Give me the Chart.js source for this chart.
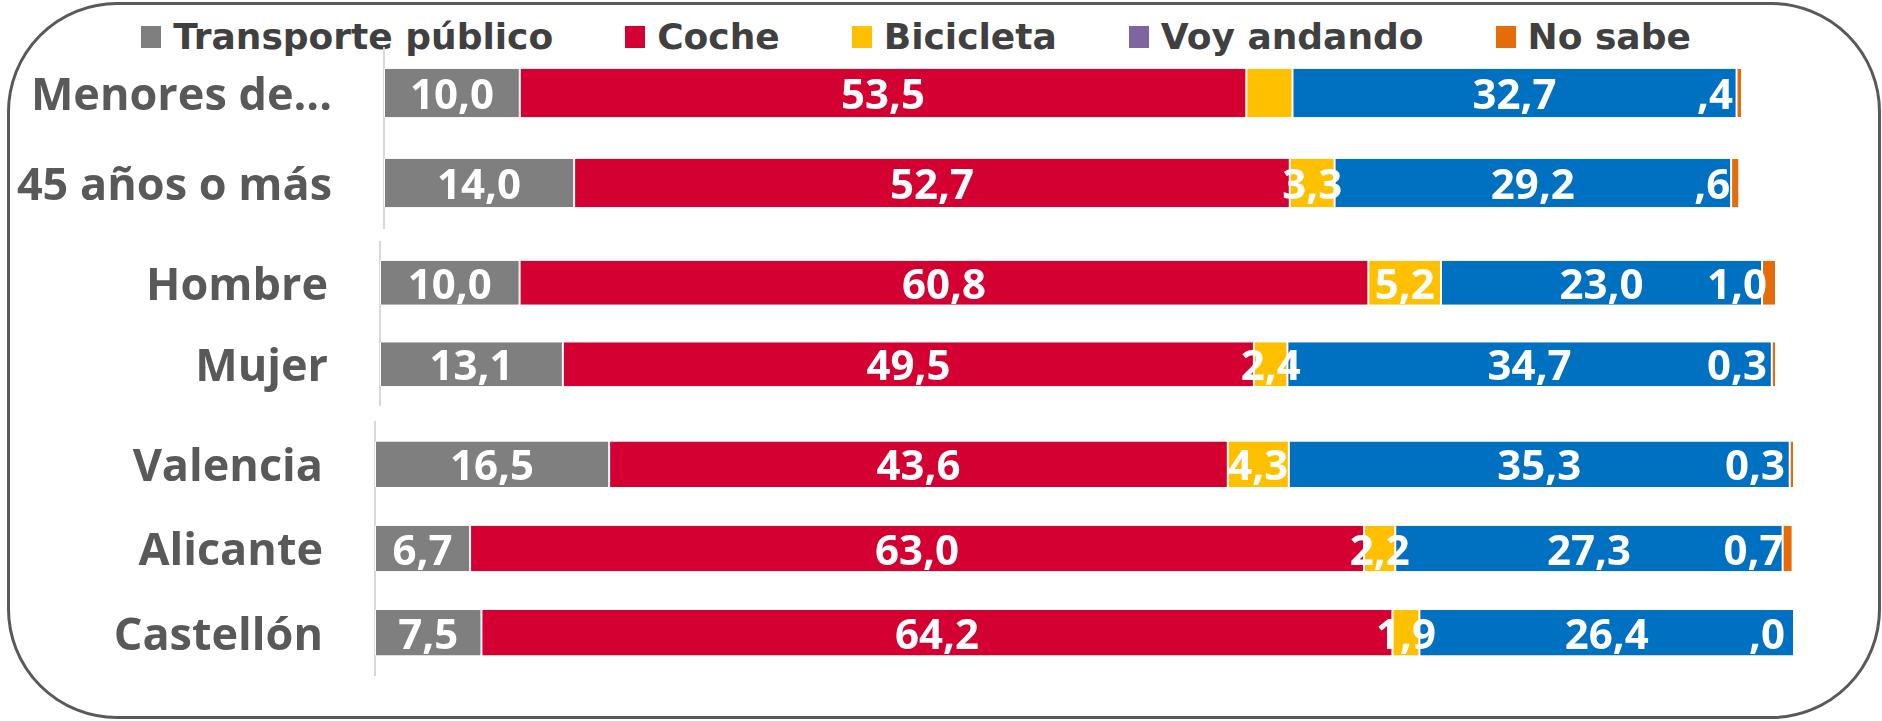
<!DOCTYPE html>
<html>
<head>
<meta charset="UTF-8">
<title>Medio de transporte habitual</title>
<script src="https://cdn.jsdelivr.net/npm/chart.js@4.4.0/dist/chart.umd.min.js"></script>
<style>
body { margin:0; background:#fff; }
#lienzo { position:relative; width:1882px; height:721px; overflow:hidden; }
#marco { position:absolute; left:7px; top:2px; width:1874px; height:717px; box-sizing:border-box; border:3px solid #595959; border-radius:110px; }
canvas { position:absolute; left:0; }
#leyenda { position:absolute; top:16px; left:0; width:1832px; margin:0; padding:0; list-style:none;
  display:flex; justify-content:center; gap:72px; font:bold 36px "DejaVu Sans"; color:#404040; line-height:42px; }
#leyenda li { display:flex; align-items:center; white-space:nowrap; }
#leyenda li span { display:inline-block; width:20px; height:22px; margin-right:12px; }
</style>
</head>
<body>
<div id="lienzo">
  <div id="marco"></div>
  <ul id="leyenda"></ul>
  <canvas id="grafEdad" width="1882" height="232" style="top:0"></canvas>
  <canvas id="grafSexo" width="1882" height="180" style="top:230px"></canvas>
  <canvas id="grafProv" width="1882" height="311" style="top:410px"></canvas>
</div>

<script>
// filas: edad (2), sexo (2), provincia (3)
var categorias = ['Menores de...', '45 años o más', 'Hombre', 'Mujer', 'Valencia', 'Alicante', 'Castellón'];
var series = ['Transporte público', 'Coche', 'Bicicleta', 'Voy andando', 'No sabe'];

var transporte = [10.0, 14.0, 10.0, 13.1, 16.5, 6.7, 7.5];
var coche      = [53.5, 52.7, 60.8, 49.5, 43.6, 63.0, 64.2];
var bicicleta  = [3.4, 3.3, 5.2, 2.4, 4.3, 2.2, 1.9];
var andando    = [32.7, 29.2, 23.0, 34.7, 35.3, 27.3, 26.4];
var noSabe     = [0.4, 0.6, 1.0, 0.3, 0.3, 0.7, 0.0];

var coloresBarra   = ['#7f7f7f', '#d50032', '#ffc000', '#0070c0', '#e46c0a'];
var coloresLeyenda = ['#7f7f7f', '#d50032', '#ffc000', '#8064a2', '#e46c0a'];

// etiquetas sin el cero delante (",4") y etiquetas que no se muestran [serie, fila]
var sinCero = [true, true, false, false, false, false, true];
var ocultas = [[2, 0]];

var valores = [transporte, coche, bicicleta, andando, noSabe];

function formato(v, fila) {
  var s = v.toFixed(1).replace('.', ',');
  if (sinCero[fila] && s.charAt(0) == '0') s = s.substring(1);
  return s;
}

function esOculta(serie, fila) {
  for (var k = 0; k < ocultas.length; k++) {
    if (ocultas[k][0] == serie && ocultas[k][1] == fila) return true;
  }
  return false;
}

function crearGrafico(id, desde, hasta, ejeAncho, derecha, arriba, abajo) {
  var etiquetas = {
    id: 'etiquetas',
    afterDatasetsDraw: function(chart) {
      var ctx = chart.ctx;
      var ultimo = chart.data.datasets.length - 1;
      ctx.save();
      ctx.font = 'bold 42px "Open Sans"';
      ctx.fillStyle = '#ffffff';
      ctx.textBaseline = 'alphabetic';
      chart.data.datasets.forEach(function(ds, i) {
        chart.getDatasetMeta(i).data.forEach(function(bar, j) {
          var fila = desde + j;
          if (esOculta(i, fila)) return;
          var txt = formato(ds.data[j], fila);
          if (i == ultimo) {
            ctx.textAlign = 'right';
            ctx.fillText(txt, bar.x - 9, bar.y + 16);
          } else {
            ctx.textAlign = 'center';
            ctx.fillText(txt, (bar.x + bar.base) / 2, bar.y + 16);
          }
        });
      });
      ctx.restore();
    }
  };

  var datasets = series.map(function(nombre, i) {
    return {
      label: nombre,
      data: valores[i].slice(desde, hasta),
      backgroundColor: coloresBarra[i],
      borderColor: '#ffffff',
      borderWidth: { left: 1, right: 1, top: 0, bottom: 0 },
      borderSkipped: false,
      barPercentage: 0.54,
      categoryPercentage: 1
    };
  });

  return new Chart(document.getElementById(id), {
    type: 'bar',
    data: { labels: categorias.slice(desde, hasta), datasets: datasets },
    options: {
      indexAxis: 'y',
      responsive: false,
      animation: false,
      layout: { padding: { left: 0, right: derecha, top: arriba, bottom: abajo } },
      plugins: { legend: { display: false }, tooltip: { enabled: false } },
      scales: {
        x: { stacked: true, min: 0, max: 100, display: false },
        y: {
          stacked: true,
          grid: { display: false, drawTicks: false },
          border: { display: true, color: '#d9d9d9', width: 2 },
          ticks: { color: '#595959', padding: 52, labelOffset: 4, font: { family: 'Open Sans', size: 45, weight: 'bold' } },
          afterFit: function(scale) {
            // ancho fijo del eje; sin reserva vertical para las etiquetas
            scale.width = ejeAncho;
            scale.paddingTop = 0;
            scale.paddingBottom = 0;
          }
        }
      }
    },
    plugins: [etiquetas]
  });
}

var grafEdad = crearGrafico('grafEdad', 0, 2, 384, 140, 48, 4);
var grafSexo = crearGrafico('grafSexo', 2, 4, 380, 106, 12, 5);
var grafProv = crearGrafico('grafProv', 4, 7, 375, 88, 12, 46);

// leyenda en HTML a partir de los elementos del primer grafico
var items = Chart.defaults.plugins.legend.labels.generateLabels(grafEdad);
var ul = document.getElementById('leyenda');
items.forEach(function(item, i) {
  var li = document.createElement('li');
  var caja = document.createElement('span');
  caja.style.background = coloresLeyenda[i];
  li.appendChild(caja);
  li.appendChild(document.createTextNode(item.text));
  ul.appendChild(li);
});
</script>
</body>
</html>
